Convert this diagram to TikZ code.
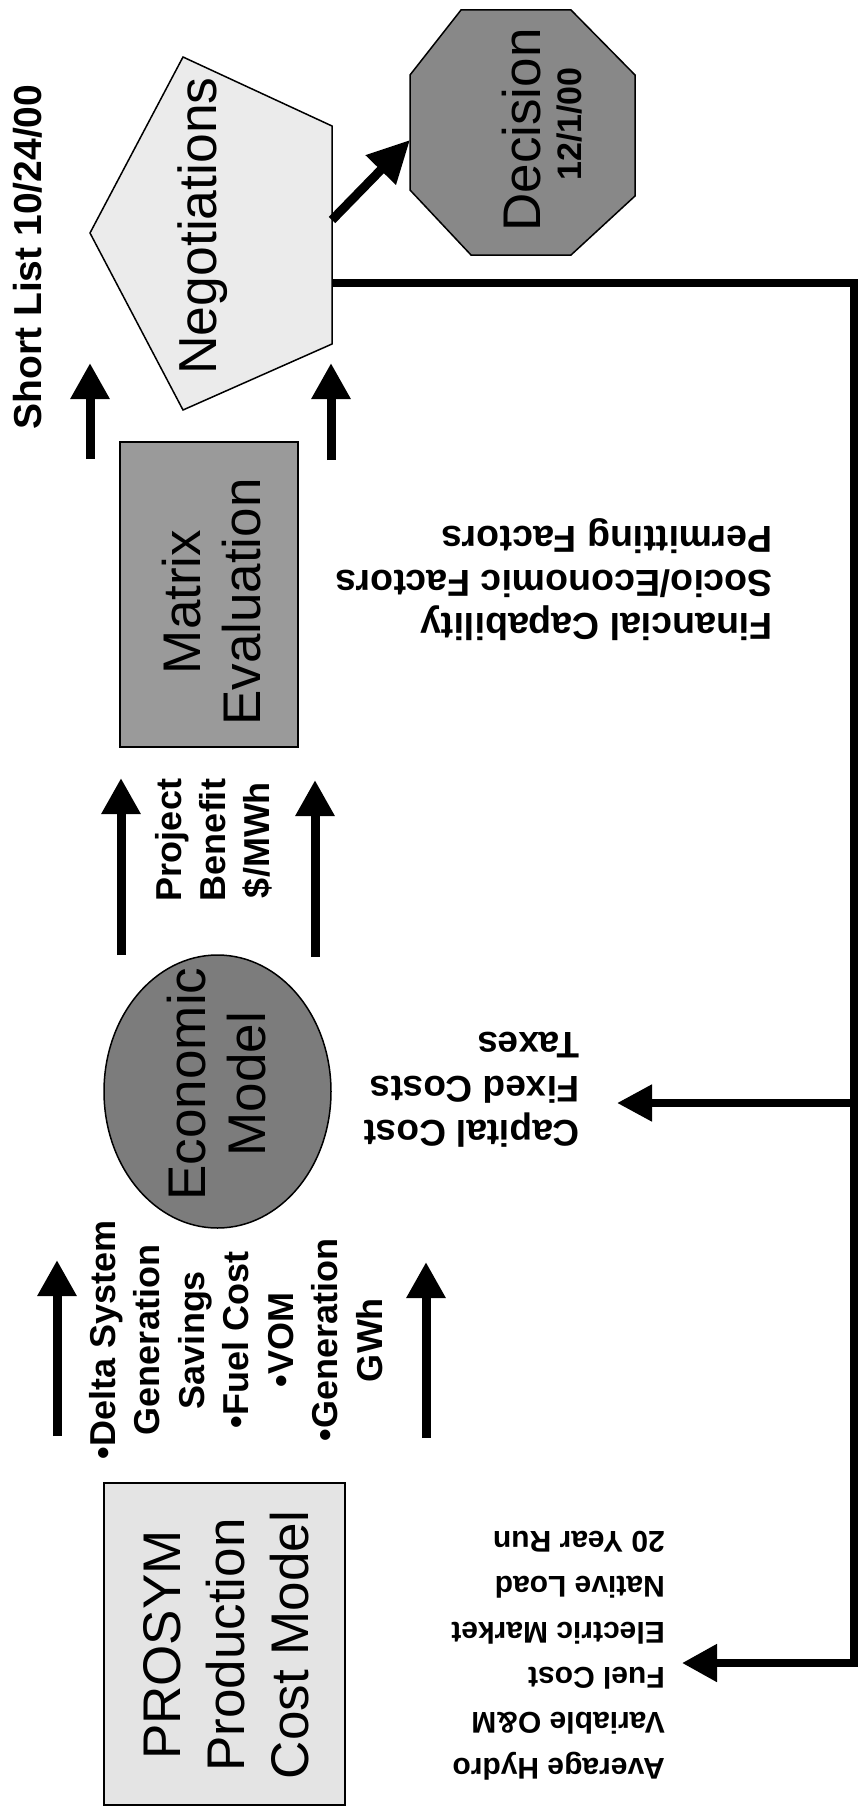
\documentclass[tikz,border=0pt]{standalone}
\usepackage{fontspec}
\setmainfont{Liberation Sans}
\usetikzlibrary{arrows.meta,shapes.geometric}
\definecolor{prosymfill}{HTML}{E4E4E4}
\definecolor{negfill}{HTML}{EBEBEB}
\definecolor{matrixfill}{HTML}{9A9A9A}
\definecolor{econfill}{HTML}{7C7C7C}
\definecolor{decfill}{HTML}{888888}
\begin{document}
\begin{tikzpicture}[x=1pt,y=-1pt,
  shapeline/.style={draw=black,line width=1.5pt},
  flow/.style={line width=9pt,-{Triangle[length=36pt,width=37pt]}},
  feed/.style={line width=8pt,line join=miter},
  bigtext/.style={font=\fontsize{53}{60}\selectfont,align=center,inner sep=0pt,rotate=90},
  lbl/.style={font=\fontsize{36}{44.5}\selectfont\bfseries,align=center,inner sep=0pt,rotate=90},
  inlbl/.style={align=left,inner sep=0pt,rotate=180,anchor=west},
]
\useasboundingbox (0,0) rectangle (858,1806);
\fill[white] (0,0) rectangle (858,1806);

% ---------- shapes ----------
\node[shapeline,fill=prosymfill,rectangle,rotate=90,minimum width=322pt,minimum height=241pt,inner sep=0pt] (prosym) at (224.5,1644) {};
\node[bigtext,font=\fontsize{53}{64}\selectfont] (prosymtext) at (226,1645) {PROSYM\\Production\\Cost Model};

\node[shapeline,fill=econfill,ellipse,rotate=90,minimum width=273pt,minimum height=227pt,inner sep=0pt] (econ) at (217.5,1091.5) {};
\node[bigtext,text=black] (econtext) at (217,1084) {Economic\\Model};

\node[shapeline,fill=matrixfill,rectangle,rotate=90,minimum width=305pt,minimum height=178pt,inner sep=0pt] (matrix) at (209,594.5) {};
\node[bigtext] (matrixtext) at (212,602) {Matrix\\Evaluation};

% Negotiations pentagon
\coordinate (n1) at (90,233);
\coordinate (n2) at (183,57);
\coordinate (n3) at (332,126);
\coordinate (n4) at (332,344);
\coordinate (n5) at (183,410);
\draw[shapeline,fill=negfill] (n1) -- (n2) -- (n3) -- (n4) -- (n5) -- cycle;
\node[bigtext,font=\fontsize{53.5}{60}\selectfont] (negtext) at (203,226) {Negotiations};

% Decision octagon
\coordinate (d1) at (410,75);
\coordinate (d2) at (461,10);
\coordinate (d3) at (571,10);
\coordinate (d4) at (635,75);
\coordinate (d5) at (635,196);
\coordinate (d6) at (571,255);
\coordinate (d7) at (471,255);
\coordinate (d8) at (410,190);
\draw[shapeline,fill=decfill] (d1) -- (d2) -- (d3) -- (d4) -- (d5) -- (d6) -- (d7) -- (d8) -- cycle;
\node[bigtext] (dectext) at (522,130) {Decision};
\node[lbl,font=\fontsize{34}{40}\selectfont\bfseries] (decdate) at (570,124) {12/1/00};

% ---------- labels ----------
\node[lbl,font=\fontsize{39}{45}\selectfont\bfseries] (shortlist) at (28,257) {Short List 10/24/00};
\node[lbl] (outputs) at (236,1340) {•Delta System\\Generation\\Savings\\•Fuel Cost\\•VOM\\•Generation\\GWh};
\node[lbl,font=\fontsize{36}{44}\selectfont\bfseries] (benefit) at (214,840) {Project\\Benefit\\\$/MWh};

\node[inlbl,font=\fontsize{30}{45.4}\selectfont\bfseries] (prosymin) at (665,1655.5) {Average Hydro\\Variable O\&M\\Fuel Cost\\Electric Market\\Native Load\\20 Year Run};
\node[inlbl,font=\fontsize{37}{44}\selectfont\bfseries] (econin) at (580,1090) {Capital Cost\\Fixed Costs\\Taxes};
\node[inlbl,font=\fontsize{37.5}{43.5}\selectfont\bfseries] (matrixin) at (773,580) {Financial Capability\\Socio/Economic Factors\\Permitting Factors};

% ---------- flow arrows ----------
\coordinate (a1s) at (57,1436);  \coordinate (a1e) at (57,1260);
\coordinate (a2s) at (426,1438); \coordinate (a2e) at (426,1262);
\coordinate (a3s) at (121,955);  \coordinate (a3e) at (121,778);
\coordinate (a4s) at (315,957);  \coordinate (a4e) at (315,780);
\coordinate (a5s) at (90,459);   \coordinate (a5e) at (90,363);
\coordinate (a6s) at (331,460);  \coordinate (a6e) at (331,363);
\draw[flow] (a1s) -- (a1e);
\draw[flow] (a2s) -- (a2e);
\draw[flow] (a3s) -- (a3e);
\draw[flow] (a4s) -- (a4e);
\draw[flow] (a5s) -- (a5e);
\draw[flow] (a6s) -- (a6e);

% Negotiations -> Decision
\coordinate (negout) at (332,220);
\coordinate (decin) at (410,140);
\draw[line width=9pt,-{Triangle[length=42pt,width=40pt]}] (negout) -- (decin);

% feedback line
\coordinate (negR) at (332,283);
\coordinate (c1) at (854,283);
\coordinate (c2) at (854,1663);
\coordinate (t1) at (682,1663);
\coordinate (b1) at (854,1103);
\coordinate (t2) at (617,1103);
\draw[feed,-{Triangle[length=35pt,width=36pt]}] (negR) -- (c1) -- (c2) -- (t1);
\draw[feed,-{Triangle[length=35pt,width=35pt]}] (b1) -- (t2);
\end{tikzpicture}
\end{document}
